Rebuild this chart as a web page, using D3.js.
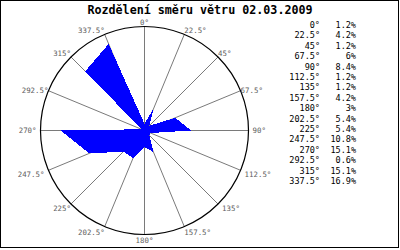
<!DOCTYPE html>
<html>
<head>
<meta charset="utf-8">
<script src="https://cdn.jsdelivr.net/npm/d3@7"></script>
<style>
  html, body { margin: 0; padding: 0; background: #fff; }
  svg { display: block; }
</style>
</head>
<body>
<div id="chart"></div>
<script>
// ---- data ----
const title = "Rozdělení směru větru 02.03.2009";
const directions = [0, 22.5, 45, 67.5, 90, 112.5, 135, 157.5, 180, 202.5, 225, 247.5, 270, 292.5, 315, 337.5];
const directionLabels = ["0°", "22.5°", "45°", "67.5°", "90°", "112.5°", "135°", "157.5°", "180°", "202.5°", "225°", "247.5°", "270°", "292.5°", "315°", "337.5°"];
const values = [1.2, 4.2, 1.2, 6, 8.4, 1.2, 1.2, 4.2, 3, 5.4, 5.4, 10.8, 15.1, 0.6, 15.1, 16.9];
const valueLabels = values.map(v => v + "%");

// ---- layout ----
const W = 400, H = 250;
const cx = 144.5, cy = 130.5, R = 104;
const mono = "'DejaVu Sans Mono', 'Liberation Mono', monospace";

const svg = d3.select("#chart").append("svg").attr("width", W).attr("height", H);
svg.append("rect").attr("width", W).attr("height", H).attr("fill", "#fff");
svg.append("rect").attr("x", 0.5).attr("y", 0.5).attr("width", 398).attr("height", 247)
  .attr("fill", "none").attr("stroke", "#000").attr("stroke-width", 1).attr("shape-rendering", "crispEdges");

svg.append("text").attr("x", 200).attr("y", 13.5).attr("text-anchor", "middle")
  .attr("font-family", mono).attr("font-weight", "bold").attr("font-size", "11.7px").attr("fill", "#000")
  .text(title);

const rScale = d3.scaleLinear().domain([0, 18.75]).range([0, R]);
const rad = d => d * Math.PI / 180;

const g = svg.append("g").attr("transform", `translate(${cx},${cy})`);

// spokes
g.selectAll("line.spoke").data(directions).join("line")
  .attr("class", "spoke")
  .attr("x1", 0).attr("y1", 0)
  .attr("x2", d => R * Math.sin(rad(d)))
  .attr("y2", d => -R * Math.cos(rad(d)))
  .attr("stroke", "#7a7a7a").attr("stroke-width", 1);

// outer circle
g.append("circle").attr("r", R).attr("fill", "none").attr("stroke", "#000").attr("stroke-width", 1.2);

// data polygon
const pts = directions.map((d, i) => ({ angle: rad(d), value: values[i] }));
const radial = d3.lineRadial().angle(d => d.angle).radius(d => rScale(d.value)).curve(d3.curveLinearClosed);
g.append("path").attr("d", radial(pts)).attr("fill", "#0000ff").attr("stroke", "none")
  .attr("shape-rendering", "crispEdges");

// direction labels
g.selectAll("text.dir").data(directions).join("text")
  .attr("class", "dir")
  .attr("font-family", mono).attr("font-size", "7.4px").attr("fill", "#606060")
  .each(function(d, i) {
    const s = Math.sin(rad(d)), c = Math.cos(rad(d));
    let x = R * s, y = -R * c;
    let anchor = Math.abs(s) < 0.01 ? "middle" : (s > 0 ? "start" : "end");
    if (c < 0.01 && s > 0.5) x += 4;
    if (c < 0.01 && s < -0.9) x -= 4;
    const yoff = c > 0.5 ? -4 : c < -0.8 ? 5.5 : c < -0.3 ? 4.5 : 0;
    d3.select(this).attr("x", x).attr("y", y + yoff).attr("dy", "0.36em")
      .attr("text-anchor", anchor).text(directionLabels[i]);
  });

// legend
const legY = d3.scaleLinear().domain([0, directions.length - 1]).range([25, 181]);
const leg = svg.append("g").attr("font-family", mono).attr("font-size", "8.5px").attr("fill", "#000");
leg.selectAll("text.la").data(directionLabels).join("text")
  .attr("class", "la").attr("x", 320).attr("y", (d, i) => legY(i)).attr("dy", "0.36em")
  .attr("text-anchor", "end").text(d => d);
leg.selectAll("text.lv").data(valueLabels).join("text")
  .attr("class", "lv").attr("x", 356).attr("y", (d, i) => legY(i)).attr("dy", "0.36em")
  .attr("text-anchor", "end").text(d => d);
</script>
</body>
</html>
